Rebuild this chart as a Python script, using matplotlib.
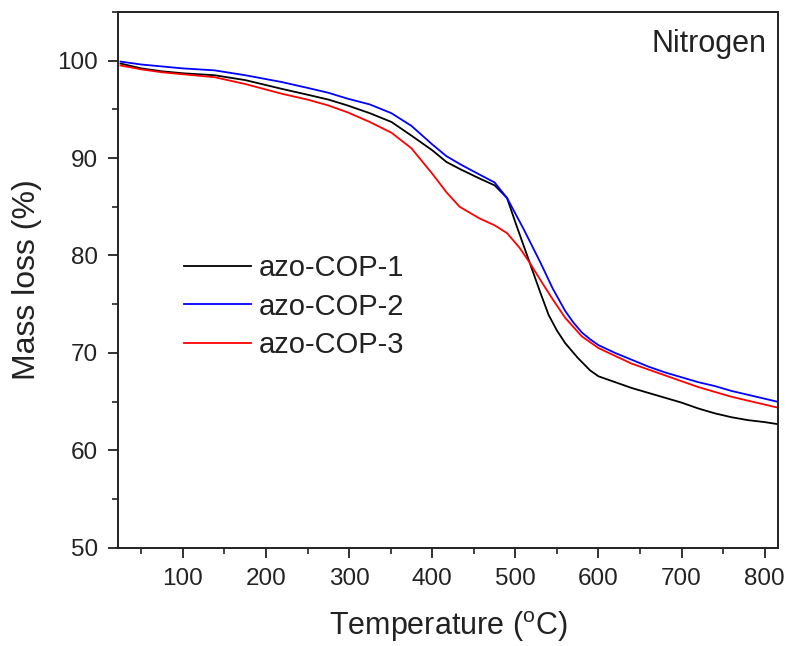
import matplotlib
matplotlib.use("Agg")
import matplotlib.pyplot as plt
from matplotlib.ticker import MultipleLocator

plt.rcParams["font.family"] = ["Liberation Sans", "DejaVu Sans"]

# TGA curves (temperature in C, mass in %)
t1 = [25, 50, 75, 100, 138, 175, 219, 250, 275, 298, 325, 351, 375, 400, 417, 435,
      457, 475, 490, 500, 510, 520, 530, 540, 550, 560, 575, 590, 600, 620, 640, 660,
      680, 700, 720, 740, 760, 780, 800, 815]
m1 = [99.7, 99.2, 98.9, 98.7, 98.5, 98.0, 97.1, 96.5, 96.0, 95.4, 94.6, 93.7, 92.3,
      90.8, 89.6, 88.8, 87.9, 87.2, 85.9, 83.4, 81.0, 78.6, 76.2, 73.9, 72.3, 71.0,
      69.5, 68.2, 67.6, 67.0, 66.4, 65.9, 65.4, 64.9, 64.3, 63.8, 63.4, 63.1, 62.9, 62.7]

t2 = [25, 50, 100, 138, 175, 219, 250, 275, 298, 325, 351, 375, 400, 417, 435, 457,
      475, 490, 500, 510, 520, 530, 545, 560, 570, 580, 590, 600, 620, 640, 660, 680,
      700, 720, 740, 760, 780, 800, 815]
m2 = [99.9, 99.6, 99.2, 99.0, 98.5, 97.8, 97.2, 96.7, 96.1, 95.5, 94.6, 93.3, 91.4,
      90.2, 89.3, 88.3, 87.5, 85.9, 84.3, 82.7, 81.0, 79.3, 76.6, 74.3, 73.1, 72.1,
      71.4, 70.8, 70.0, 69.3, 68.6, 68.0, 67.5, 67.0, 66.6, 66.1, 65.7, 65.3, 65.0]

t3 = [25, 50, 75, 100, 138, 175, 219, 250, 275, 298, 325, 351, 375, 400, 417, 433,
      457, 475, 490, 505, 517, 530, 545, 560, 580, 600, 620, 640, 660, 680, 700, 720,
      740, 760, 780, 800, 815]
m3 = [99.5, 99.1, 98.8, 98.6, 98.3, 97.6, 96.6, 96.0, 95.4, 94.7, 93.7, 92.6, 91.0,
      88.4, 86.5, 85.0, 83.8, 83.1, 82.3, 80.8, 79.3, 77.5, 75.5, 73.6, 71.7, 70.5,
      69.7, 68.9, 68.3, 67.7, 67.1, 66.5, 66.0, 65.5, 65.1, 64.7, 64.4]

labels = ["azo-COP-1", "azo-COP-2", "azo-COP-3"]

fig = plt.figure(figsize=(7.87, 6.46), dpi=100)
ax = fig.add_axes([0.150, 0.152, 0.8386, 0.8296])

ax.plot(t1, m1, color="black", lw=1.3, label=labels[0])
ax.plot(t2, m2, color="#0000ff", lw=1.3, label=labels[1])
ax.plot(t3, m3, color="#ff0000", lw=1.3, label=labels[2])

ax.set_xlim(22, 816)
ax.set_ylim(50, 105)
ax.xaxis.set_major_locator(MultipleLocator(100))
ax.xaxis.set_minor_locator(MultipleLocator(50))
ax.yaxis.set_major_locator(MultipleLocator(10))
ax.yaxis.set_minor_locator(MultipleLocator(5))
ax.set_yticks([50, 60, 70, 80, 90, 100])

ax.tick_params(which="major", direction="out", length=7, width=1.3,
               labelsize=17.5, colors="#222222", pad=7.5)
ax.tick_params(which="minor", direction="out", length=4, width=1.2, colors="#222222")
ax.tick_params(top=False, right=False, which="both")
for s in ax.spines.values():
    s.set_linewidth(1.4)
    s.set_color("#222222")

ax.set_xlabel("Temperature ($\\mathregular{^oC}$)", fontsize=22, color="#222222", labelpad=14)
ax.set_ylabel("Mass loss (%)", fontsize=23, color="#222222", labelpad=11)

ax.text(0.983, 0.968, "Nitrogen", transform=ax.transAxes, ha="right", va="top",
        fontsize=22, color="#222222")

ax.legend(loc="center left", bbox_to_anchor=(0.1, 0.45), frameon=False, fontsize=21,
          handlelength=2.3, handletextpad=0.25, labelspacing=0.36, borderpad=0,
          borderaxespad=0, labelcolor="#222222")

fig.savefig("out.png", dpi=100)
